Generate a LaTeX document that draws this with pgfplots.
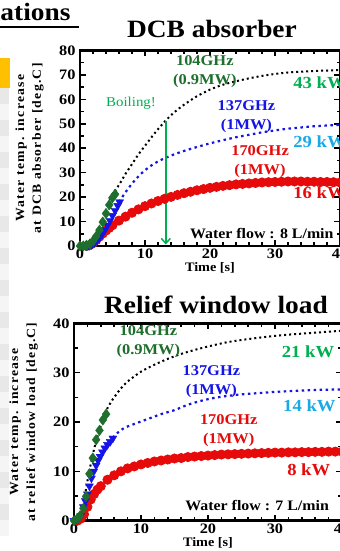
\documentclass[border=0pt]{standalone}
\usepackage{fontspec}
\setmainfont{Liberation Serif}[FakeStretch=1.1]
\newfontfamily\tickfont{Liberation Serif}[FakeStretch=1.13]
\newfontfamily\labfont{Liberation Serif}[FakeStretch=1.1,LetterSpace=10]
\usepackage{pgfplots}
\pgfplotsset{compat=1.18}
\usetikzlibrary{arrows.meta}
\definecolor{dgreen}{RGB}{30,110,45}
\definecolor{pgreen}{RGB}{0,176,80}
\definecolor{lblue}{RGB}{25,170,230}
\definecolor{myblue}{RGB}{20,20,230}
\definecolor{myred}{RGB}{230,10,10}
\definecolor{myyellow}{RGB}{255,192,0}
\pgfplotsset{
  myaxis/.style={
    scale only axis, clip=false,
    xmin=0, xmax=40, ymin=0,
    xtick={0,10,20,30,40}, minor x tick num=4, minor y tick num=1,
    axis line style={line width=2.5bp},
    tick style={line width=1.5bp, black},
    major tick length=6bp, minor tick length=3.5bp,
    tick align=inside,
    tick label style={font=\tickfont\bfseries\fontsize{14.5}{15}\selectfont},
    yticklabel style={xshift=-1bp},
    xticklabel style={yshift=0.5bp},
    /pgf/number format/assume math mode=true,
    xlabel={Time [s]},
    xlabel style={font=\bfseries\fontsize{13}{14}\selectfont, yshift=3bp},
    ylabel style={font=\labfont\bfseries\fontsize{12.5}{17}\selectfont, align=center, anchor=center},
  },
  dotblack/.style={black, line width=2bp, dash pattern=on 2bp off 3bp, smooth},
  dotblue/.style={myblue, line width=2.2bp, dash pattern=on 2.5bp off 3.5bp, smooth},
  redc/.style={myred, line width=0.8pt, mark=*, mark size=4.6bp, mark options={solid, fill=myred, draw=myred}, smooth},
  bluet/.style={only marks, myblue, mark=triangle*, mark size=4.6bp, mark options={rotate=180, fill=myblue, draw=myblue}},
  greend/.style={only marks, dgreen, mark=diamond*, mark size=5.2bp, mark options={fill=dgreen, draw=dgreen}},
}
\tikzset{
  ann/.style={font=\bfseries\fontsize{15}{19}\selectfont, align=center},
  kw/.style={font=\bfseries\fontsize{17}{19}\selectfont, anchor=west},
}
\begin{document}
\begin{tikzpicture}
\useasboundingbox (0bp,0bp) rectangle (340bp,551bp);
\clip (0bp,0bp) rectangle (340bp,551bp);
% slide background fragments at left edge
\fill[myyellow] (0bp,463bp) rectangle (10bp,493bp);
\foreach \i in {0,...,27} {
  \pgfmathsetmacro{\ya}{463-16*\i}
  \pgfmathsetmacro{\yb}{463-16*(\i+1)}
  \ifodd\i \fill[black!4] (0bp,\ya bp) rectangle (9bp,\yb bp); \else \fill[black!9] (0bp,\ya bp) rectangle (9bp,\yb bp); \fi
}
% heading fragment
\node[anchor=base east, inner sep=0pt, font=\bfseries\fontsize{25}{28}\selectfont] at (70.7bp,530.3bp) {ations};
\draw[line width=2bp] (0bp,523.7bp) -- (79bp,523.7bp);
% titles
\node[anchor=base, inner sep=0pt, font=\bfseries\fontsize{25}{28}\selectfont] at (212bp,513.7bp) {DCB absorber};
\node[anchor=base, inner sep=0pt, font=\bfseries\fontsize{25}{28}\selectfont] at (216bp,237.7bp) {Relief window load};

% ---------------- top axis ----------------
\begin{axis}[myaxis, at={(80bp,305bp)}, anchor=south west, width=260bp, height=195.5bp,
  ymax=80, ytick={0,10,...,80},
  ylabel={Water temp. increase\\at DCB absorber [deg.C]},
  ylabel style={at={(axis description cs:-0.194,0.5)}}]
\addplot[dotblack] coordinates {(4.5,19)(5,21)(6,25)(7,29.5)(8,33.5)(9,37.5)(10,41)(11,44.5)(12,47.8)(13,50.8)(14,53.5)(15,55.8)(16,57.8)(17,59.6)(18,61.3)(20,64)(22,66)(24,67.4)(26,68.6)(28,69.6)(30,70.4)(32,71)(34,71.3)(36,71.6)(38,71.8)(40,72)};
\addplot[dotblue] coordinates {(6,18)(7,22)(8,25.5)(9,28.5)(10,31)(11,33)(12,34.6)(13,35.9)(14,37)(15,38)(16,38.9)(18,40.5)(20,42)(22,43.3)(24,44.5)(26,45.5)(28,46.5)(30,47.3)(32,48)(34,48.5)(36,49)(38,49.3)(40,49.6)};
\addplot[redc] coordinates {(1,0)(1.5,0.4)(2,1.2)(2.5,2.4)(3,3.8)(3.5,5.1)(4,6.3)(4.5,7.4)(5,8.5)(6,10.4)(7,12)(8,13.6)(9,15)(10,16.3)(11,17.4)(12,18.4)(13,19.3)(14,20.1)(15,20.9)(16,21.6)(17,22.2)(18,22.8)(19,23.3)(20,23.8)(21,24.2)(22,24.6)(23,24.9)(24,25.2)(25,25.4)(26,25.6)(27,25.8)(28,26)(29,26.1)(30,26.2)(31,26.3)(32,26.4)(33,26.4)(34,26.4)(35,26.3)(36,26.3)(37,26.2)(38,26.2)(39,26.1)(40,26)};
\addplot[bluet] coordinates {(1,0)(1.4,0.1)(1.8,0.5)(2.2,1.2)(2.6,2.2)(3,3.4)(3.4,4.8)(3.8,6.5)(4.2,8.4)(4.6,10.4)(5,12.4)(5.4,14.5)(5.8,16.5)(6.1,18)};
\addplot[greend] coordinates {(0,0)(0.5,0)(1,0.3)(1.5,0.8)(2,2)(2.5,4)(3,6.5)(3.5,9.8)(4,13.3)(4.5,16.8)(5,19.8)(5.4,21.2)};
\draw[pgreen, line width=1.5bp, -{Straight Barb[length=5bp,width=9bp]}] (axis cs:13.2,51) -- (axis cs:13.2,0.6);
\node[ann, dgreen] at (axis cs:19.2,71.2) {104GHz\\(0.9MW)};
\node[pgreen, font=\fontsize{13.6}{15}\selectfont] at (axis cs:7.85,58.6) {Boiling!};
\node[kw, pgreen, inner sep=0pt] at (axis cs:32.8,66.8) {43 kW};
\node[ann, myblue] at (axis cs:25.6,53) {137GHz\\(1MW)};
\node[kw, lblue, inner sep=0pt] at (axis cs:32.8,42.6) {29 kW};
\node[ann, myred] at (axis cs:27.7,34.6) {170GHz\\(1MW)};
\node[kw, myred, inner sep=0pt] at (axis cs:32.8,21.7) {16 kW};
\node[anchor=west, inner sep=0pt, font=\bfseries\fontsize{14.5}{16}\selectfont] at (axis cs:16.9,5.3) {Water flow : 8 L/min};
\end{axis}

% ---------------- bottom axis ----------------
\begin{axis}[myaxis, at={(74bp,30.3bp)}, anchor=south west, width=268bp, height=197.4bp,
  ymax=40, ytick={0,10,20,30,40},
  ylabel={Water temp. increase\\at relief window load [deg.C]},
  ylabel style={at={(axis description cs:-0.188,0.5)}}]
\addplot[dotblack] coordinates {(1.5,4)(2,8)(2.5,11.5)(3,14.5)(3.5,17)(4,19.3)(4.5,21.2)(5,22.8)(5.5,24)(6,25)(7,26.8)(8,28.2)(10,30.2)(12,31.6)(14,32.8)(16,33.8)(18,34.6)(20,35.3)(23,36.2)(26,36.8)(29,37.3)(32,37.7)(35,38)(38,38.3)(40,38.5)};
\addplot[dotblue] coordinates {(5.8,16.8)(6.5,17.8)(7.5,18.8)(9,19.6)(11,20.6)(13,21.6)(15,22.4)(17,23.5)(19,24.3)(21,24.9)(23,25.3)(25,25.6)(27,25.8)(30,26.1)(33,26.3)(36,26.5)(40,26.6)};
\addplot[redc] coordinates {(0.5,0)(1,0.4)(1.5,1.3)(2,2.8)(2.5,4.3)(3,5.4)(3.5,6.3)(4,7)(5,8.3)(6,9.2)(7,10)(8,10.6)(9,11)(10,11.4)(11,11.7)(12,12)(13,12.2)(14,12.4)(15,12.6)(16,12.7)(17,12.9)(18,13)(19,13.1)(20,13.2)(21,13.3)(22,13.4)(23,13.45)(24,13.5)(25,13.55)(26,13.6)(27,13.65)(28,13.7)(29,13.75)(30,13.8)(31,13.8)(32,13.85)(33,13.85)(34,13.9)(35,13.9)(36,13.95)(37,13.95)(38,14)(39,14)(40,14)};
\addplot[bluet] coordinates {(0,0)(0.5,0.2)(1,1)(1.4,2.8)(1.7,4)(2,5.4)(2.3,7)(2.6,8.6)(2.95,10)(3.3,11.2)(3.6,12.2)(3.9,13)(4.25,13.9)(4.6,14.7)(5,15.4)(5.4,16)(5.8,16.7)};
\addplot[greend] coordinates {(0,0)(0.5,0.4)(0.9,1)(1.4,2.5)(1.8,4.9)(2.3,9.5)(2.8,12.7)(3.3,16.4)(3.8,18.3)(4.3,20.4)(4.8,21.6)};
\node[ann, dgreen] at (axis cs:11.1,36.2) {104GHz\\(0.9MW)};
\node[kw, pgreen, inner sep=0pt] at (axis cs:31,34.2) {21 kW};
\node[ann, myblue] at (axis cs:20.5,28.1) {137GHz\\(1MW)};
\node[kw, lblue, inner sep=0pt] at (axis cs:31.2,23.2) {14 kW};
\node[ann, myred] at (axis cs:23.1,18.3) {170GHz\\(1MW)};
\node[kw, myred, inner sep=0pt] at (axis cs:31.8,10.3) {8 kW};
\node[anchor=west, inner sep=0pt, font=\bfseries\fontsize{14.5}{16}\selectfont] at (axis cs:16.6,3) {Water flow : 7 L/min};
\end{axis}
\end{tikzpicture}
\end{document}
